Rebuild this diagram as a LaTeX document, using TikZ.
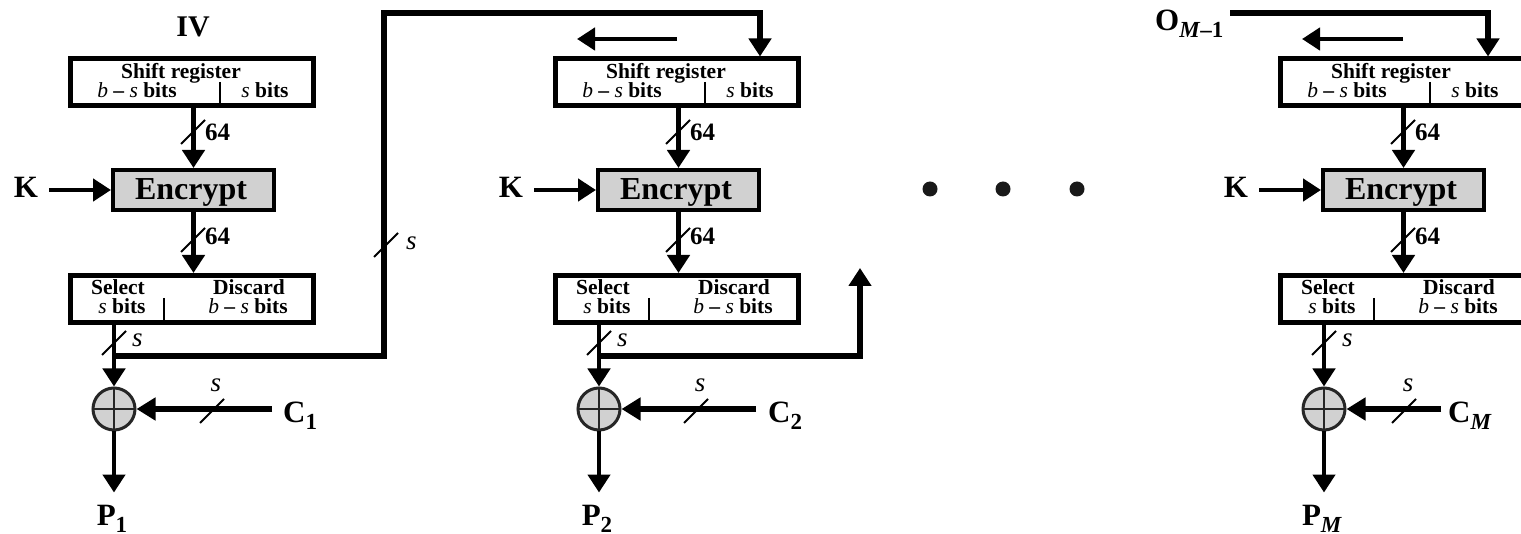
\documentclass[tikz,border=0pt]{standalone}
\usepackage{fontspec}
\setmainfont{Liberation Serif}
\usetikzlibrary{arrows.meta,calc}
\definecolor{encgray}{gray}{0.82}
\newcommand\fsz[1]{\fontsize{#1}{#1}\selectfont}
\newcommand\lowsub[1]{\raisebox{-7pt}{\fsz{23}#1}}
\newcommand\itm[1]{{\mdseries\itshape #1}}
\begin{document}
\begin{tikzpicture}[x=1pt,y=-1pt,
  every node/.style={inner sep=0pt},
  regbox/.style={draw,line width=5pt,minimum width=243pt,minimum height=47pt},
  encbox/.style={draw,line width=4pt,fill=encgray,minimum width=161pt,minimum height=40pt},
  xorc/.style={circle,draw=black!85,line width=3pt,fill=encgray,minimum size=42pt},
  arr/.style={line width=4.5pt,-{Triangle[width=22pt,length=18pt]}},
  carr/.style={line width=6.5pt,-{Triangle[width=22pt,length=19pt]}},
  fb/.style={line width=6pt,line join=miter,-{Triangle[width=22pt,length=18pt]}},
  slash/.style={line width=2pt},
  boxtxt/.style={font=\bfseries\fsz{21.5},anchor=base,text height=13pt,text depth=2pt},
  bigtxt/.style={font=\bfseries\fsz{31}},
  numtxt/.style={font=\bfseries\fsz{25},anchor=base west},
  stxt/.style={font=\mdseries\itshape\fsz{27}},
  dot/.style={circle,fill=black!90,minimum size=15pt}
]
\useasboundingbox (0,0) rectangle (1521,534);

\foreach \i/\dx/\Cs/\Sl/\Ct/\Clab/\Plab in {%
  1/0/158/98/169/{C\lowsub{1}}/{P\lowsub{1}},%
  2/485/157/97/169/{C\lowsub{2}}/{P\lowsub{2}},%
  3/1210/117/80/124/{C\lowsub{\textit{M}}}/{P\lowsub{\textit{M}}}}{
  % shift register
  \node[regbox] (sr\i) at (192+\dx,82.5) {};
  \node[boxtxt] (srt\i) at (181+\dx,78.5) {Shift register};
  \node[boxtxt] (srl\i) at (137+\dx,98) {\itm{b} – \itm{s} bits};
  \node[boxtxt] (srr\i) at (265+\dx,98) {\itm{s} bits};
  \draw[line width=1.5pt] (220+\dx,82) -- (220+\dx,104.5);
  % encrypt
  \node[encbox] (enc\i) at (193.5+\dx,190) {};
  \node[font=\bfseries\fsz{32},anchor=base] (enct\i) at (191+\dx,200) {Encrypt};
  \draw[arr] (sr\i.south -| enc\i) -- (enc\i.north);
  \draw[slash] (181+\dx,144) -- (205+\dx,120);
  \node[numtxt] (n1\i) at (205+\dx,141) {64};
  % key
  \node[bigtxt,anchor=base] (k\i) at (26+\dx,198) {K};
  \draw[arr] ([xshift=11pt]k\i.east |- enc\i.west) -- (enc\i.west);
  % select box
  \node[regbox] (sel\i) at (192+\dx,299) {};
  \node[boxtxt] (selt\i) at (118+\dx,294.5) {Select};
  \node[boxtxt] (sels\i) at (122+\dx,314) {\itm{s} bits};
  \node[boxtxt] (dist\i) at (249+\dx,294.5) {Discard};
  \node[boxtxt] (diss\i) at (248+\dx,314) {\itm{b} – \itm{s} bits};
  \draw[line width=1.5pt] (164+\dx,298) -- (164+\dx,321);
  \draw[arr] (enc\i.south) -- (sel\i.north -| enc\i);
  \draw[slash] (181+\dx,252) -- (205+\dx,228);
  \node[numtxt] (n2\i) at (205+\dx,245) {64};
  % xor
  \node[xorc] (xor\i) at (114+\dx,409) {};
  \draw[line width=2pt,black!85] (114+\dx,389) -- (114+\dx,429);
  \draw[line width=2pt,black!85] (94+\dx,409) -- (134+\dx,409);
  \coordinate (j\i) at (114+\dx,356);
  \draw[arr] (sel\i.south -| xor\i) -- (xor\i.north);
  \draw[slash] (102+\dx,355) -- (126+\dx,331);
  \node[stxt,anchor=base west] (s1\i) at (132+\dx,347) {s};
  % ciphertext input
  \coordinate (cs\i) at (114+\dx+\Cs,409);
  \draw[carr] (cs\i) -- (xor\i.east);
  \draw[slash] (102+\dx+\Sl,423) -- (126+\dx+\Sl,399);
  \node[stxt,anchor=base] (s2\i) at (118+\dx+\Sl,392) {s};
  \node[bigtxt,anchor=base west] (c\i) at (114+\dx+\Ct,423) {\Clab};
  % plaintext output
  \node[bigtxt,anchor=base] (p\i) at (112+\dx,525) {\Plab};
  \draw[arr] (xor\i.south) -- ([yshift=12pt]p\i.north -| xor\i);
}

% IV label
\node[font=\bfseries\fsz{30},anchor=base] (iv) at (193,37) {IV};

% feedback from stage 1 to stage 2
\coordinate (f1a) at (384,356);
\coordinate (f1b) at (384,13);
\coordinate (f1c) at (760,13);
\draw[fb] (j1) -- (f1a) -- (f1b) -- (f1c) -- (f1c |- sr2.north);
\draw[slash] (374,257) -- (398,233);
\node[stxt,anchor=base west] (sfb) at (406,250) {s};

% feedback from stage 2 onwards
\coordinate (f2a) at (860,356);
\coordinate (f2b) at (860,268);
\draw[fb] (j2) -- (f2a) -- (f2b);

% shift direction arrows
\coordinate (sh2a) at (677,39);
\coordinate (sh2b) at (577,39);
\draw[arr] (sh2a) -- (sh2b);
\coordinate (sh3a) at (1403,39);
\coordinate (sh3b) at (1302,39);
\draw[arr] (sh3a) -- (sh3b);

% input to last stage
\node[bigtxt,anchor=base west] (om) at (1155,31) {O\lowsub{\textit{M}–1}};
\coordinate (f3a) at (1230,13);
\coordinate (f3b) at (1488,13);
\draw[fb] (f3a) -- (f3b) -- (f3b |- sr3.north);

% dots
\node[dot] (d1) at (930,189) {};
\node[dot] (d2) at (1003,189) {};
\node[dot] (d3) at (1077,189) {};
\end{tikzpicture}
\end{document}
